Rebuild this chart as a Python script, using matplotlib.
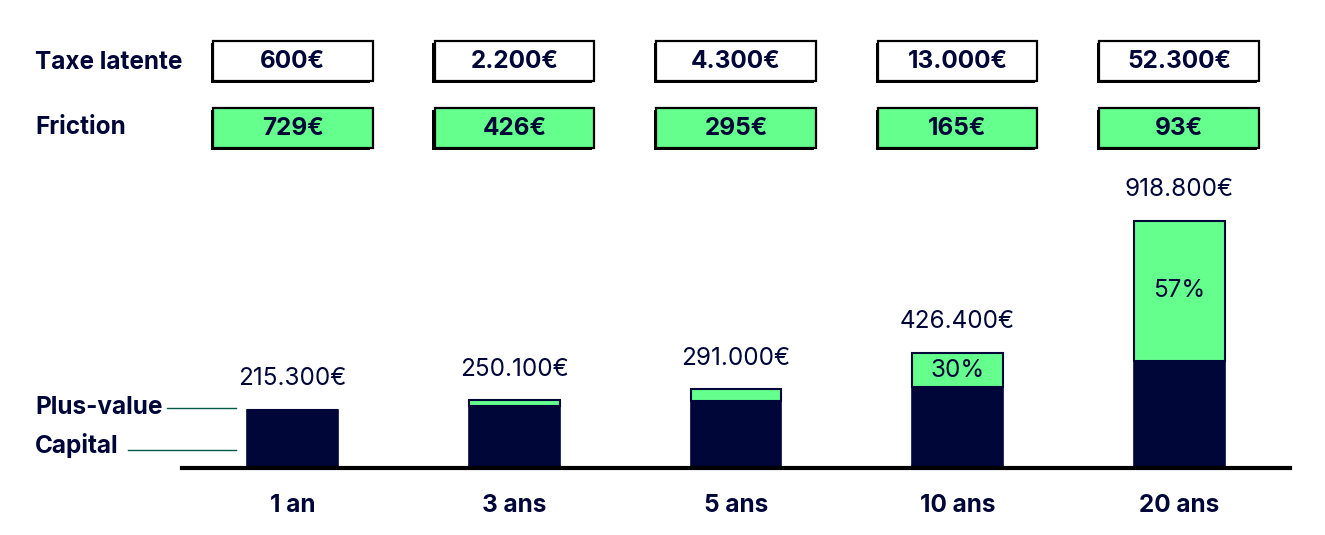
import numpy as np
import matplotlib.pyplot as plt
from matplotlib import patheffects as pe

plt.rcParams['font.family'] = ['Inter', 'DejaVu Sans']

periods = ["1 an", "3 ans", "5 ans", "10 ans", "20 ans"]
totals = [215300, 250100, 291000, 426400, 918800]
capital = [215300, 230000, 247400, 298500, 395100]
total_labels = ["215.300€", "250.100€", "291.000€", "426.400€", "918.800€"]
gain_pct = [None, None, None, "30%", "57%"]
taxe_latente = ["600€", "2.200€", "4.300€", "13.000€", "52.300€"]
friction = ["729€", "426€", "295€", "165€", "93€"]
row_names = ["Taxe latente", "Friction"]

navy = "#000638"
green = "#64FF8C"
teal = "#005A46"
fs = 17.5

W, H = 1325, 535
fig = plt.figure(figsize=(W / 100, H / 100), dpi=100)

x = np.arange(len(periods))
gains = np.array(totals) - np.array(capital)

# bar chart
ax = fig.add_axes([182 / W, 67.5 / H, 1108 / W, 287.5 / H])
ax.set_xlim(-0.5, 4.5)
ax.set_ylim(0, 1069500)
ax.bar(x, capital, width=0.41, color=navy, edgecolor=navy, linewidth=1.2)
ax.bar(x, gains, bottom=capital, width=0.41, color=green, edgecolor=navy, linewidth=1.5)
for i in x:
    ax.annotate(total_labels[i], (i, totals[i]), xytext=(0, 14), textcoords="offset points",
                ha="center", va="bottom", fontsize=fs, color=navy)
    if gain_pct[i]:
        ax.text(i, capital[i] + gains[i] / 2, gain_pct[i], ha="center", va="center",
                fontsize=fs, color=navy)
for s in ["top", "right", "left"]:
    ax.spines[s].set_visible(False)
ax.spines["bottom"].set_linewidth(3)
ax.spines["bottom"].set_color("black")
ax.set_yticks([])
ax.set_xticks(x)
ax.set_xticklabels(periods, fontsize=fs, fontweight="bold", color=navy)
ax.tick_params(axis="x", length=0, pad=19)

# boxes on top
bx = fig.add_axes([182 / W, (H - 160) / H, 1108 / W, 130 / H])
bx.set_xlim(-0.5, 4.5)
bx.set_ylim(1.477, -0.463)
bx.axis("off")
shadow = [pe.SimplePatchShadow(offset=(-1.6, -1.6), shadow_rgbFace="black", alpha=1), pe.Normal()]
for r, (vals, face) in enumerate([(taxe_latente, "white"), (friction, green)]):
    bars = bx.bar(x, 0.6, bottom=r - 0.3, width=0.72, color=face, edgecolor="black", linewidth=1.6)
    for b in bars:
        b.set_path_effects(shadow)
    for i in x:
        bx.text(i, r, vals[i], ha="center", va="center", fontsize=fs,
                fontweight="bold", color=navy)

# row labels
fig.text(35 / W, 1 - 62 / H, row_names[0], ha="left", va="center", fontsize=fs,
         fontweight="bold", color=navy)
fig.text(35 / W, 1 - 127 / H, row_names[1], ha="left", va="center", fontsize=fs,
         fontweight="bold", color=navy)

# legend leaders
fig.text(35 / W, 1 - 408 / H, "Plus-value", ha="left", va="center", fontsize=fs,
         fontweight="bold", color=navy)
fig.text(35 / W, 1 - 446 / H, "Capital", ha="left", va="center", fontsize=fs,
         fontweight="bold", color=navy)
fig.add_artist(plt.Line2D([167 / W, 236 / W], [1 - 408 / H, 1 - 408 / H], color=teal, lw=1))
fig.add_artist(plt.Line2D([128 / W, 236 / W], [1 - 450 / H, 1 - 450 / H], color=teal, lw=1))

fig.savefig("out.png", dpi=100)
